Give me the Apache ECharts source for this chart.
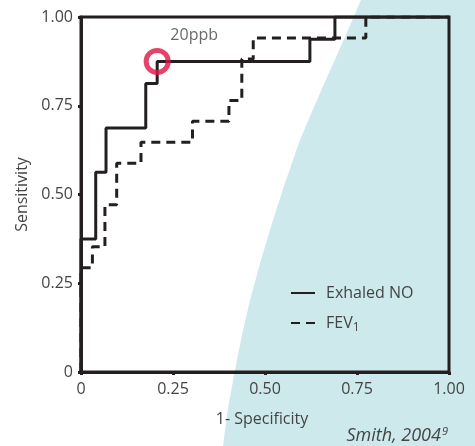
<!DOCTYPE html>
<html>
<head>
<meta charset="utf-8">
<script src="https://cdn.jsdelivr.net/npm/echarts@6/dist/echarts.min.js"></script>
<style>
  html, body { margin: 0; padding: 0; background: #fff; }
  #main { width: 475px; height: 446px; }
</style>
</head>
<body>
<div id="main"></div>
<script>
// ROC steps
var noFpr  = [0, 0, 0.04, 0.068, 0.176, 0.207, 0.622, 0.69, 1];
var noSens = [0, 0.375, 0.5625, 0.6875, 0.8125, 0.875, 0.9375, 1, 1];

var fevFpr  = [0, 0, 0.031, 0.065, 0.097, 0.163, 0.303, 0.402, 0.437, 0.468, 0.774, 1];
var fevSens = [0, 0.294, 0.353, 0.471, 0.588, 0.647, 0.706, 0.765, 0.882, 0.941, 1, 1];

// cut-off marked with the red ring
var cutFpr = 0.207;
var cutSens = 0.875;
var cutLabel = '20ppb';

var font = "'Open Sans', 'Noto Sans', sans-serif";
var ink = '#231f20';
var grey = '#444';

function pairs(xs, ys) {
  var out = [];
  for (var i = 0; i < xs.length; i++) out.push([xs[i], ys[i]]);
  return out;
}
function tickFmt(v) {
  return v === 0 ? '0' : v.toFixed(2);
}

var chart = echarts.init(document.getElementById('main'));

var option = {
  animation: false,
  textStyle: { fontFamily: font },
  graphic: [
    {
      // pale cyan band behind the chart
      type: 'polygon',
      z: -10,
      silent: true,
      shape: {
        points: [[361, 0], [345, 37], [328, 75], [314, 107], [300, 140], [286, 180],
                 [273, 220], [261, 260], [250, 300], [242, 335], [235, 370],
                 [228, 408], [223, 446], [475, 446], [475, 0]]
      },
      style: { fill: '#cde9ec' }
    },
    {
      type: 'text',
      right: 27,
      top: 426,
      style: {
        text: '{a|Smith, 2004}{s|9}',
        rich: {
          a: { fontFamily: font, fontStyle: 'italic', fontSize: 18, fill: grey },
          s: { fontFamily: font, fontStyle: 'italic', fontSize: 11, fill: grey, verticalAlign: 'top', padding: [0, 0, 9, 1] }
        }
      }
    }
  ],
  grid: {
    left: 81, right: 26, top: 17, bottom: 74,
    show: true,
    borderWidth: 3,
    borderColor: ink,
    backgroundColor: 'transparent'
  },
  legend: {
    orient: 'vertical',
    left: 285,
    top: 280,
    itemWidth: 24,
    itemHeight: 14,
    itemGap: 14,
    data: ['Exhaled NO', 'FEV1'],
    itemStyle: { color: 'rgba(0,0,0,0)', borderWidth: 0 },
    textStyle: {
      fontFamily: font, fontSize: 16, color: grey, padding: [0, 0, 0, 6],
      rich: {
        sub: { fontFamily: font, fontSize: 12, color: grey, verticalAlign: 'bottom', padding: [9, 0, 0, 0] }
      }
    },
    formatter: function (name) {
      return name === 'FEV1' ? 'FEV{sub|1}' : name;
    }
  },
  xAxis: {
    type: 'value',
    min: 0, max: 1, interval: 0.25,
    name: '1- Specificity',
    nameLocation: 'middle',
    nameGap: 39,
    nameTextStyle: { fontFamily: font, fontSize: 16, color: grey, padding: [0, 6, 0, 0] },
    axisLine: { lineStyle: { color: ink, width: 3 } },
    axisTick: { length: 3, lineStyle: { color: ink, width: 3 } },
    axisLabel: { margin: 9, fontSize: 16, color: grey, fontFamily: font, formatter: tickFmt },
    splitLine: { show: false }
  },
  yAxis: {
    type: 'value',
    min: 0, max: 1, interval: 0.25,
    name: 'Sensitivity',
    nameLocation: 'middle',
    nameRotate: 90,
    nameGap: 42,
    nameTextStyle: { fontFamily: font, fontSize: 16, color: grey },
    axisLine: { lineStyle: { color: ink, width: 3 } },
    axisTick: { length: 3, lineStyle: { color: ink, width: 3 } },
    axisLabel: { margin: 8, fontSize: 16, color: grey, fontFamily: font, formatter: tickFmt },
    splitLine: { show: false }
  },
  series: [
    {
      name: 'FEV1',
      type: 'line',
      step: 'end',
      symbol: 'none',
      z: 3,
      data: pairs(fevFpr, fevSens),
      lineStyle: { color: ink, width: 3, type: [9, 6] },
      itemStyle: { color: ink }
    },
    {
      name: 'Exhaled NO',
      type: 'line',
      step: 'end',
      symbol: 'none',
      z: 4,
      data: pairs(noFpr, noSens),
      lineStyle: { color: ink, width: 3 },
      itemStyle: { color: ink }
    },
    {
      name: 'cutoff',
      type: 'scatter',
      z: 5,
      symbol: 'circle',
      symbolSize: 22,
      data: [[cutFpr, cutSens]],
      itemStyle: { color: 'rgba(0,0,0,0)', borderColor: '#dc1745', borderWidth: 5 },
      label: {
        show: true,
        position: 'top',
        distance: 4,
        offset: [37, 0],
        formatter: cutLabel,
        fontFamily: font,
        fontSize: 16,
        color: grey
      }
    }
  ]
};

chart.setOption(option);
</script>
</body>
</html>
